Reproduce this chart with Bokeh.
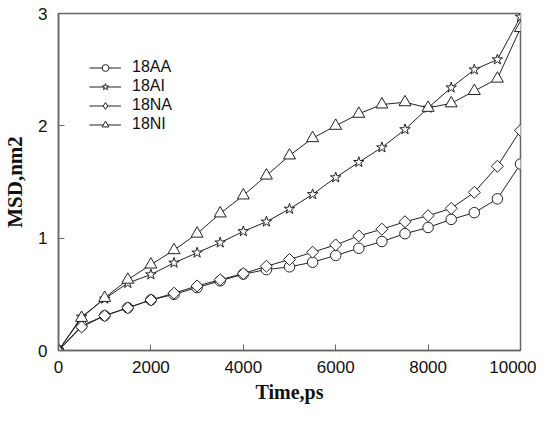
import math
from bokeh.plotting import figure
from bokeh.models import Range1d, Legend, LegendItem, FixedTicker
from bokeh.embed import file_html
from bokeh.resources import INLINE

time_ps = [0, 500, 1000, 1500, 2000, 2500, 3000, 3500, 4000, 4500, 5000,
           5500, 6000, 6500, 7000, 7500, 8000, 8500, 9000, 9500, 10000]
msd_18AA = [0, 0.22, 0.31, 0.38, 0.45, 0.50, 0.56, 0.62, 0.68, 0.72, 0.745,
            0.786, 0.846, 0.91, 0.97, 1.04, 1.095, 1.167, 1.227, 1.35, 1.66]
msd_18AI = [0, 0.30, 0.46, 0.60, 0.676, 0.78, 0.87, 0.96, 1.06, 1.146, 1.26,
            1.39, 1.54, 1.676, 1.807, 1.968, 2.16, 2.34, 2.50, 2.59, 2.97]
msd_18NA = [0, 0.21, 0.31, 0.38, 0.45, 0.51, 0.575, 0.63, 0.685, 0.75, 0.81,
            0.875, 0.94, 1.02, 1.08, 1.146, 1.20, 1.265, 1.408, 1.64, 1.96]
msd_18NI = [0, 0.29, 0.468, 0.63, 0.765, 0.893, 1.04, 1.22, 1.38, 1.557, 1.736,
            1.89, 2.00, 2.107, 2.19, 2.21, 2.16, 2.20, 2.31, 2.42, 2.87]
series_names = ["18AA", "18AI", "18NA", "18NI"]
x_ticks = [0, 2000, 4000, 6000, 8000, 10000]
y_ticks = [0, 1, 2, 3]

p = figure(width=536, height=405, output_backend="svg", toolbar_location=None,
           x_range=Range1d(0, 10000), y_range=Range1d(0, 3),
           min_border_left=56, min_border_right=16, min_border_top=13, min_border_bottom=50)
p.grid.visible = False
p.outline_line_color = "#666666"
p.outline_line_width = 1.5

for ax in (p.xaxis[0], p.yaxis[0]):
    ax.axis_line_color = "#666666"
    ax.axis_line_width = 1.5
    ax.major_tick_in = 6
    ax.major_tick_out = 0
    ax.minor_tick_line_color = None
    ax.major_tick_line_color = "#666666"
    ax.major_label_text_font = "Liberation Sans"
    ax.major_label_text_font_size = "17px"
    ax.major_label_text_color = "#111111"
    ax.axis_label_text_font = "Liberation Serif"
    ax.axis_label_text_font_style = "bold"
    ax.axis_label_text_font_size = "20px"
    ax.axis_label_text_color = "#111111"

p.xaxis.ticker = FixedTicker(ticks=x_ticks)
p.yaxis.ticker = FixedTicker(ticks=y_ticks)
p.xaxis.axis_label = "Time,ps"
p.yaxis.axis_label = "MSD,nm2"
p.yaxis.axis_label_text_font_size = "21px"
p.xaxis.major_label_standoff = 10
p.yaxis.major_label_standoff = 11
p.xaxis.axis_label_standoff = 5
p.yaxis.axis_label_standoff = 8

lc = "#222222"
items = []
specs = [
    (msd_18AA, "circle", 10.5, 0.0),
    (msd_18AI, "star", 11, 0.0),
    (msd_18NA, "square", 8.5, math.pi / 4),
    (msd_18NI, "triangle", 12, 0.0),
]
for name, (ys, mk, sz, ang) in zip(series_names, specs):
    l = p.line(time_ps, ys, line_color=lc, line_width=1)
    s = p.scatter(time_ps, ys, marker=mk, size=sz, angle=ang, fill_color="white",
                  line_color=lc, line_width=1)
    if ang:
        s_leg = p.scatter([float("nan")], [float("nan")], marker="diamond", size=14,
                          fill_color="white", line_color=lc, line_width=1)
        items.append(LegendItem(label=name, renderers=[l, s_leg]))
    else:
        items.append(LegendItem(label=name, renderers=[l, s]))

legend = Legend(items=items, location=(31, 217), orientation="vertical")
legend.background_fill_alpha = 0
legend.border_line_color = None
legend.padding = 0
legend.margin = 0
legend.spacing = 1
legend.glyph_width = 32
legend.glyph_height = 17
legend.label_height = 17
legend.label_standoff = 11
legend.label_text_font = "Liberation Sans"
legend.label_text_font_size = "16px"
legend.label_text_color = "#111111"
p.add_layout(legend)

open("out.html", "w").write(file_html(p, INLINE))
